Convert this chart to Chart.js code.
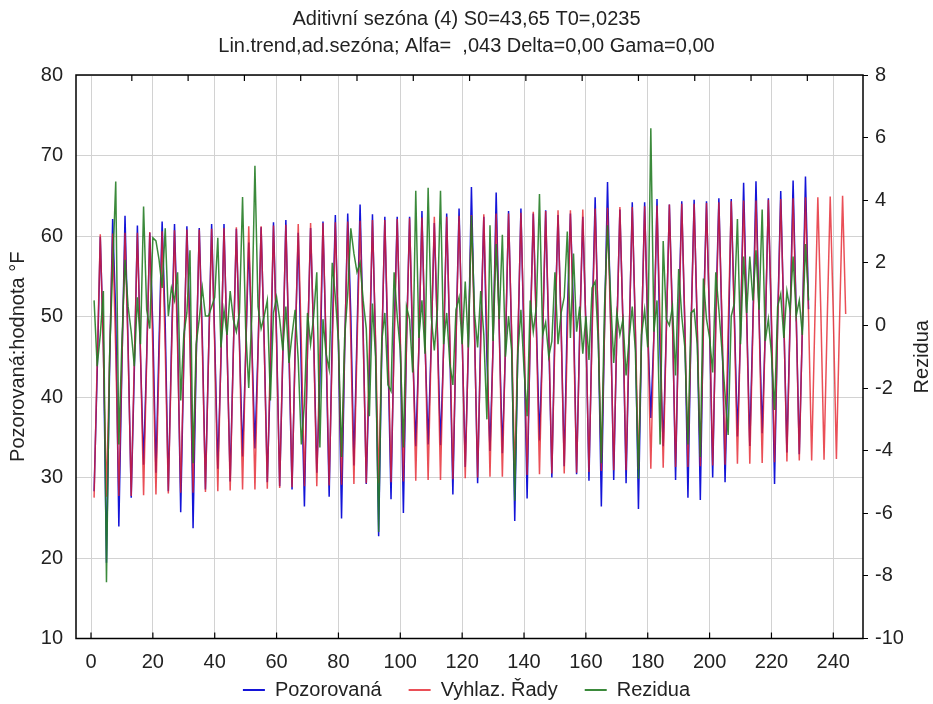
<!DOCTYPE html>
<html>
<head>
<meta charset="utf-8">
<script src="https://cdn.jsdelivr.net/npm/chart.js@4.4.0/dist/chart.umd.min.js"></script>
<style>
  body { margin: 0; background: #fff; }
</style>
</head>
<body>
<canvas id="c" width="933" height="704"></canvas>
<script>
const FONT = '"Liberation Sans", Arial, sans-serif';
const FS = 20;

const titleLines = ["Aditivní sezóna (4) S0=43,65 T0=,0235", "Lin.trend,ad.sezóna; Alfa=  ,043 Delta=0,00 Gama=0,00"];
const seriesNames = ["Pozorovaná", "Vyhlaz. Řady", "Rezidua"];
const leftTitle = "Pozorovaná:hodnota °F";
const rightTitle = "Rezidua";

const xTicks = [0, 20, 40, 60, 80, 100, 120, 140, 160, 180, 200, 220, 240];
const topTicks = [13.2, 31.4, 49.6, 67.8, 86.0, 104.2, 122.4, 140.6, 158.8, 177.0, 195.2, 213.4, 231.6];

// observed values (cases 1..232)
const observed = [
  28.3, 43.0, 59.9, 46.6,  19.4, 43.4, 62.1, 50.2,  23.9, 44.0, 62.5, 46.3,  27.5, 43.2, 61.3, 45.1,
  31.6, 45.1, 60.4, 48.6,  30.6, 46.8, 61.8, 49.0,  28.3, 46.0, 61.5, 47.7,  25.7, 44.6, 61.2, 48.5,
  23.7, 44.3, 61.0, 47.3,  28.5, 45.3, 61.5, 47.1,  31.1, 44.4, 61.5, 46.0,  29.5, 45.4, 60.9, 46.8,
  32.6, 45.2, 59.2, 46.8,  33.6, 45.9, 61.1, 46.8,  29.4, 43.0, 61.7, 47.5,  28.9, 44.7, 62.0, 45.5,
  28.5, 46.1, 60.4, 43.0,  26.4, 46.1, 61.0, 47.2,  30.6, 41.8, 61.8, 46.0,  27.6, 47.8, 62.6, 46.5,
  24.9, 45.5, 62.8, 50.2,  31.5, 47.7, 63.9, 48.0,  29.2, 43.2, 62.7, 46.3,  22.7, 45.6, 62.4, 45.4,
  27.3, 47.9, 62.4, 46.6,  25.6, 46.9, 62.4, 46.0,  33.9, 46.0, 63.1, 46.7,  34.1, 46.8, 61.6, 48.2,
  34.0, 45.9, 62.8, 46.5,  27.9, 47.1, 63.4, 47.2,  31.3, 46.0, 66.1, 48.3,  29.3, 47.9, 62.4, 45.0,
  33.3, 46.4, 65.4, 48.3,  33.0, 45.9, 63.1, 47.3,  24.6, 46.1, 63.4, 46.8,  27.4, 47.9, 62.8, 48.9,
  34.6, 46.9, 63.2, 47.4,  30.0, 49.0, 62.6, 48.9,  31.4, 50.3, 62.8, 50.8,  30.4, 48.0, 62.4, 48.9,
  29.6, 48.7, 64.8, 48.2,  26.4, 48.1, 66.7, 49.7,  29.7, 48.1, 63.3, 49.1,  29.3, 47.3, 64.2, 48.1,
  26.1, 47.5, 64.2, 48.3,  37.4, 47.7, 64.6, 45.3,  33.9, 48.2, 63.9, 49.8,  29.7, 49.9, 64.3, 48.6,
  27.5, 48.5, 64.5, 48.7,  27.2, 49.7, 64.3, 49.0,  30.0, 50.0, 64.7, 48.7,  29.4, 44.9, 64.6, 50.3,
  35.1, 47.9, 66.6, 50.1,  33.9, 49.3, 66.8, 50.2,  35.5, 48.1, 64.7, 48.9,  29.2, 49.3, 65.6, 49.5,
  33.1, 49.3, 66.9, 50.3,  32.9, 48.6, 67.4, 50.9
];

// smoothed series incl. forecast (cases 1..244)
const smoothed = [
  27.5, 44.3, 60.2, 45.5,  27.6, 44.4, 60.3, 45.6,  27.7, 44.5, 60.4, 45.7,  27.7, 44.5, 60.4, 45.7,
  27.8, 44.6, 60.5, 45.8,  27.9, 44.7, 60.6, 45.9,  28.0, 44.8, 60.7, 46.0,  28.1, 44.9, 60.8, 46.1,
  28.1, 44.9, 60.8, 46.1,  28.2, 45.0, 60.9, 46.2,  28.3, 45.1, 61.0, 46.3,  28.4, 45.2, 61.1, 46.4,
  28.5, 45.3, 61.2, 46.5,  28.5, 45.3, 61.2, 46.5,  28.6, 45.4, 61.3, 46.6,  28.7, 45.5, 61.4, 46.7,
  28.8, 45.6, 61.5, 46.8,  28.9, 45.7, 61.6, 46.9,  28.9, 45.7, 61.6, 46.9,  29.0, 45.8, 61.7, 47.0,
  29.1, 45.9, 61.8, 47.1,  29.2, 46.0, 61.9, 47.2,  29.3, 46.1, 62.0, 47.3,  29.3, 46.1, 62.0, 47.3,
  29.4, 46.2, 62.1, 47.4,  29.5, 46.3, 62.2, 47.5,  29.6, 46.4, 62.3, 47.6,  29.7, 46.5, 62.4, 47.7,
  29.7, 46.5, 62.4, 47.7,  29.8, 46.6, 62.5, 47.8,  29.9, 46.7, 62.6, 47.9,  30.0, 46.8, 62.7, 48.0,
  30.1, 46.9, 62.8, 48.1,  30.1, 46.9, 62.8, 48.1,  30.2, 47.0, 62.9, 48.2,  30.3, 47.1, 63.0, 48.3,
  30.4, 47.2, 63.1, 48.4,  30.5, 47.3, 63.2, 48.5,  30.5, 47.3, 63.2, 48.5,  30.6, 47.4, 63.3, 48.6,
  30.7, 47.5, 63.4, 48.7,  30.8, 47.6, 63.5, 48.8,  30.9, 47.7, 63.6, 48.9,  30.9, 47.7, 63.6, 48.9,
  31.0, 47.8, 63.7, 49.0,  31.1, 47.9, 63.8, 49.1,  31.2, 48.0, 63.9, 49.2,  31.3, 48.1, 64.0, 49.3,
  31.3, 48.1, 64.0, 49.3,  31.4, 48.2, 64.1, 49.4,  31.5, 48.3, 64.2, 49.5,  31.6, 48.4, 64.3, 49.6,
  31.7, 48.5, 64.4, 49.7,  31.7, 48.5, 64.4, 49.7,  31.8, 48.6, 64.5, 49.8,  31.9, 48.7, 64.6, 49.9,
  32.0, 48.8, 64.7, 50.0,  32.1, 48.9, 64.8, 50.1,  32.1, 48.9, 64.8, 50.1,  32.2, 49.0, 64.9, 50.2,
  32.3, 49.1, 65.0, 50.3
];

// residuals (right axis, cases 1..232)
const residuals = [
   0.8, -1.3, -0.3,  1.1,  -8.2, -1.0,  1.8,  4.6,  -3.8, -0.5,  2.1,  0.6,  -0.2, -1.3,  0.9, -0.6,
   3.8,  0.5, -0.1,  2.8,   2.7,  2.1,  1.2,  3.1,   0.3,  1.2,  0.8,  1.7,  -2.4, -0.3,  0.4,  2.4,
  -4.4, -0.6,  0.2,  1.2,   0.3,  0.3,  0.6,  0.9,   2.8, -0.7,  0.5, -0.3,   1.1,  0.2, -0.2,  0.4,
   4.1, -0.1, -2.0,  0.3,   5.1,  0.6, -0.1,  0.3,   0.8, -2.4,  0.4,  0.9,   0.2, -0.8,  0.6, -1.2,
  -0.3,  0.5, -1.1, -3.8,  -2.5,  0.4, -0.6,  0.3,   1.7, -3.9,  0.2, -0.9,  -1.4,  2.0,  0.9, -0.5,
  -4.2, -0.4,  1.0,  3.1,   2.3,  1.7,  2.0,  0.8,  -0.1, -2.9,  0.7, -1.0,  -6.6, -0.5,  0.4, -1.9,
  -2.1,  1.7,  0.3, -0.8,  -3.9,  0.6,  0.2, -1.5,   4.3, -0.4,  0.8, -0.9,   4.4,  0.3, -0.8,  0.5,
   4.3, -0.6,  0.4, -1.2,  -1.9,  0.5,  0.9, -0.6,   1.4, -0.7,  3.5,  0.4,  -0.7,  1.1, -0.3, -3.0,
   3.2, -0.5,  2.6,  0.2,   2.9, -1.0,  0.3, -0.8,  -5.6, -0.9,  0.5, -1.4,  -2.9,  0.8, -0.2,  0.6,
   4.2, -0.3,  0.1, -1.0,  -0.5,  1.7, -0.6,  0.4,   0.9,  3.0, -0.4,  2.3,  -0.2,  0.6, -0.9,  0.3,
  -1.1,  1.2,  1.4, -0.5,  -4.4,  0.5,  3.2,  0.9,  -1.2,  0.4, -0.3,  0.2,  -1.6, -0.4,  0.6, -0.8,
  -4.9, -0.3,  0.5, -0.7,   6.3, -0.2,  0.8, -3.8,   2.7,  0.2,  0.0,  0.6,  -1.6,  1.8,  0.3, -0.7,
  -3.8,  0.4,  0.5, -0.6,  -4.2,  1.5,  0.2, -0.4,  -1.5,  1.7,  0.5, -0.8,  -2.2, -3.5,  0.3,  0.7,
   3.4, -0.6,  2.2,  0.4,   2.2,  0.8,  2.4,  0.5,   3.7, -0.5,  0.2, -0.9,  -2.7,  0.6,  1.0, -0.4,
   1.1,  0.5,  2.2,  0.3,   0.8, -0.3,  2.6,  0.8
];

const toPoints = arr => arr.map((v, i) => ({ x: i + 1, y: v }));

// frame, inward ticks and right axis title
const framePlugin = {
  id: 'frame',
  afterLayout(chart) {
    // legend sits lower than Chart.js would put it with this item spacing
    const lg = chart.legend;
    const p = lg.options.labels.padding;
    lg.top = chart.height - 14 - p - FS / 2;
    lg.bottom = chart.height;
    lg.height = lg.bottom - lg.top;
  },
  afterDraw(chart) {
    const { ctx, chartArea: a } = chart;
    const xs = chart.scales.x;
    ctx.save();
    ctx.strokeStyle = '#000';
    ctx.lineWidth = 1.5;
    ctx.strokeRect(a.left, a.top, a.right - a.left, a.bottom - a.top);
    ctx.lineWidth = 1.2;
    ctx.beginPath();
    xTicks.forEach(v => {
      const px = xs.getPixelForValue(v);
      ctx.moveTo(px, a.bottom);
      ctx.lineTo(px, a.bottom - 6);
    });
    topTicks.forEach(v => {
      const px = xs.getPixelForValue(v);
      ctx.moveTo(px, a.top);
      ctx.lineTo(px, a.top + 6);
    });
    ctx.stroke();
    ctx.fillStyle = '#222';
    ctx.font = FS + 'px ' + FONT;
    ctx.textAlign = 'center';
    ctx.textBaseline = 'middle';
    ctx.translate(chart.width - 11, (a.top + a.bottom) / 2);
    ctx.rotate(-Math.PI / 2);
    ctx.fillText(rightTitle, 0, 0);
    ctx.restore();
  }
};

new Chart(document.getElementById('c'), {
  type: 'line',
  data: {
    datasets: [
      { label: seriesNames[0], data: toPoints(observed), borderColor: '#1414d8', borderWidth: 1.5, pointRadius: 0, yAxisID: 'y', order: 3 },
      { label: seriesNames[1], data: toPoints(smoothed), borderColor: 'rgba(228,30,40,0.78)', borderWidth: 1.5, pointRadius: 0, yAxisID: 'y', order: 2 },
      { label: seriesNames[2], data: toPoints(residuals), borderColor: 'rgba(38,125,38,0.9)', borderWidth: 1.5, pointRadius: 0, yAxisID: 'y2', order: 1 }
    ]
  },
  options: {
    responsive: false,
    animation: false,
    layout: { padding: 0 },
    plugins: {
      title: {
        display: true,
        text: titleLines,
        color: '#222',
        font: { family: FONT, size: FS, weight: 'normal', lineHeight: 1.35 },
        padding: { top: 6, bottom: 15 }
      },
      legend: {
        position: 'bottom',
        maxHeight: 28,
        labels: {
          color: '#222',
          font: { family: FONT, size: FS },
          boxWidth: 22,
          boxHeight: 2,
          padding: 27,
          sort: (a, b) => a.datasetIndex - b.datasetIndex,
          generateLabels(chart) {
            return Chart.defaults.plugins.legend.labels.generateLabels(chart)
              .map(l => ({ ...l, lineWidth: 0, fillStyle: l.strokeStyle }));
          }
        }
      },
      tooltip: { enabled: false }
    },
    scales: {
      x: {
        type: 'linear',
        min: -4.85,
        max: 249.6,
        afterBuildTicks: s => { s.ticks = xTicks.map(v => ({ value: v })); },
        afterFit: s => { s.height = 37.5; },
        grid: { color: '#d2d2d2', lineWidth: 1, drawTicks: false },
        border: { display: false },
        ticks: { color: '#222', font: { family: FONT, size: FS }, padding: 12, maxRotation: 0 }
      },
      y: {
        position: 'left',
        min: 10,
        max: 80,
        ticks: { stepSize: 10, color: '#222', font: { family: FONT, size: FS }, padding: 13 },
        afterFit: s => { s.width = 76; },
        grid: { color: '#d2d2d2', lineWidth: 1, drawTicks: false },
        border: { display: false },
        title: { display: true, text: leftTitle, color: '#222', font: { family: FONT, size: FS }, padding: { top: 6, bottom: 0 } }
      },
      y2: {
        position: 'right',
        min: -10,
        max: 8,
        ticks: { stepSize: 2, color: '#222', font: { family: FONT, size: FS }, padding: 7 },
        afterFit: s => { s.width = 70; },
        grid: { drawOnChartArea: false, color: '#000', tickLength: 5, lineWidth: 1 },
        border: { display: false }
      }
    }
  },
  plugins: [framePlugin]
});
</script>
</body>
</html>
